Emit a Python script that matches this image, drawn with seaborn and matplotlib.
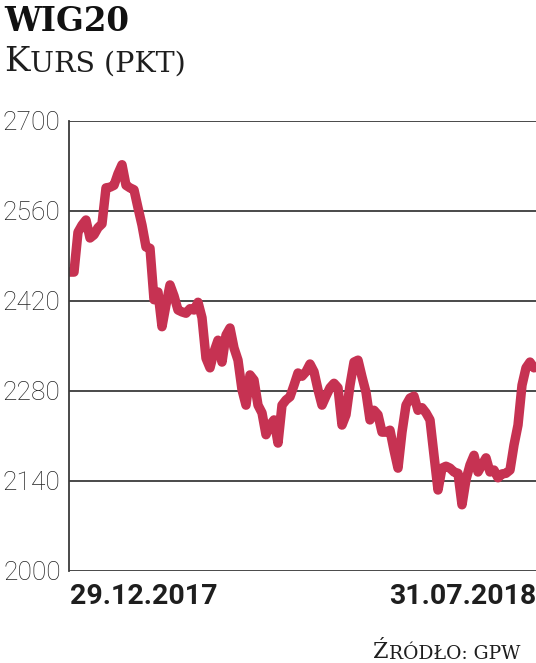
import numpy as np
import pandas as pd
import matplotlib
matplotlib.use("Agg")
import matplotlib.pyplot as plt
import seaborn as sns

# ---- data (WIG20 index, points; roughly evenly spaced samples 29.12.2017 -> 31.07.2018)
wig20 = [
    2465, 2465, 2527, 2538, 2546, 2518, 2523, 2534, 2540, 2596,
    2597, 2600, 2618, 2632, 2600, 2596, 2593, 2565, 2538, 2504,
    2502, 2422, 2434, 2380, 2414, 2445, 2428, 2406, 2403, 2401,
    2408, 2406, 2418, 2394, 2331, 2316, 2341, 2359, 2325, 2367,
    2378, 2347, 2328, 2282, 2258, 2305, 2297, 2258, 2246, 2212,
    2227, 2235, 2199, 2258, 2266, 2271, 2289, 2308, 2303, 2310,
    2322, 2310, 2282, 2258, 2272, 2285, 2292, 2285, 2227, 2243,
    2289, 2325, 2328, 2302, 2278, 2235, 2250, 2243, 2216, 2216,
    2219, 2188, 2160, 2216, 2258, 2269, 2272, 2250, 2254, 2246,
    2235, 2180, 2126, 2160, 2163, 2160, 2154, 2152, 2103, 2142,
    2165, 2180, 2154, 2165, 2176, 2154, 2157, 2145, 2151, 2152,
    2157, 2196, 2227, 2289, 2316, 2325, 2316,
]
y_ticks = [2000, 2140, 2280, 2420, 2560, 2700]
date_labels = ["29.12.2017", "31.07.2018"]
title = "WIG20"
subtitle_parts = ("K", "URS (PKT)")
source_parts = ("Ź", "RÓDŁO: GPW")

df = pd.DataFrame({"i": np.arange(len(wig20)), "value": wig20})

sns.set_theme(style="white")
plt.rcParams["font.family"] = ["DejaVu Sans"]

W, H = 536, 663
fig = plt.figure(figsize=(W / 100, H / 100), dpi=100)
fig.patch.set_facecolor("white")
ax = fig.add_axes([69 / W, 1 - 571 / H, (536 - 69) / W, (571 - 121) / H])

line_color = "#C63252"
sns.lineplot(data=df, x="i", y="value", ax=ax, color=line_color, linewidth=6.8,
             solid_joinstyle="round", solid_capstyle="round")

n = len(wig20)
step = (534 - 70) / (n - 1)
ax.set_xlim(-(70 - 69) / step, (n - 1) + (536 - 534) / step)
ax.set_ylim(2000, 2700)
ax.set_yticks(y_ticks)
ax.set_xticks([])
ax.set_xlabel("")
ax.set_ylabel("")

ax.yaxis.grid(True, color="#3a3a3a", linewidth=1.3)
ax.set_axisbelow(True)
for s in ["top", "right", "bottom"]:
    ax.spines[s].set_visible(False)
ax.spines["left"].set_color("#3a3a3a")
ax.spines["left"].set_linewidth(1.3)

ax.tick_params(axis="y", length=0, pad=6, labelsize=19, labelcolor="#222222")
for lab in ax.get_yticklabels():
    lab.set_family(["Roboto", "DejaVu Sans"])
    lab.set_fontweight("light")

# date labels under the axis
ax.annotate(date_labels[0], xy=(0, 0), xycoords="axes fraction",
            xytext=(1, -12), textcoords="offset pixels", ha="left", va="top",
            fontsize=20.5, fontweight="bold", family=["Roboto", "DejaVu Sans"],
            color="#1e1e1e")
ax.annotate(date_labels[1], xy=(1, 0), xycoords="axes fraction",
            xytext=(0, -12), textcoords="offset pixels", ha="right", va="top",
            fontsize=20.5, fontweight="bold", family=["Roboto", "DejaVu Sans"],
            color="#1e1e1e")

# title and subtitle (small caps emulation)
serif = ["DejaVu Serif"]
fig.text(4 / W, 1 - 31 / H, title, ha="left", va="baseline", fontsize=23.5,
         fontweight="bold", family=serif, color="#111111")
t1 = fig.text(4 / W, 1 - 71 / H, subtitle_parts[0], ha="left", va="baseline",
              fontsize=24.5, family=serif, color="#1e1e1e")
ax.annotate(subtitle_parts[1], xy=(1, 0), xycoords=t1, xytext=(0, 0),
            textcoords="offset pixels", ha="left", va="bottom",
            fontsize=20.5, family=serif, color="#1e1e1e",
            annotation_clip=False)

# source (small caps emulation)
s2 = fig.text(520 / W, 1 - 659 / H, source_parts[1], ha="right", va="baseline",
              fontsize=13.5, family=serif, color="#1e1e1e")
ax.annotate(source_parts[0], xy=(0, 0), xycoords=s2, xytext=(0, 0),
            textcoords="offset pixels", ha="right", va="bottom",
            fontsize=16, family=serif, color="#1e1e1e", annotation_clip=False)

fig.savefig("out.png", dpi=100, facecolor="white")
